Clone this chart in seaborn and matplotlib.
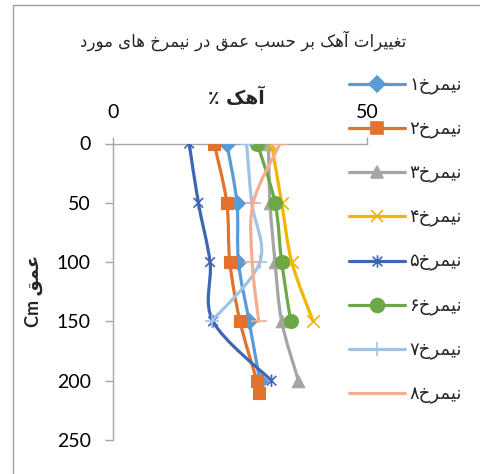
import numpy as np
import pandas as pd
import matplotlib
matplotlib.use("Agg")
import matplotlib.pyplot as plt
import seaborn as sns
from matplotlib.path import Path
from matplotlib.patches import PathPatch, Rectangle
from matplotlib.lines import Line2D

# ---- data: lime content (%) by depth (cm) for eight soil profiles ----
depth_1 = [0, 50, 100, 150, 200]
lime_1 = [22.4, 24.4, 24.7, 26.8, 28.9]
depth_2 = [0, 50, 100, 150, 200, 210]
lime_2 = [19.9, 22.4, 23.0, 25.0, 28.3, 28.8]
depth_3 = [0, 50, 100, 150, 200]
lime_3 = [30.6, 30.9, 31.9, 33.2, 36.5]
depth_4 = [0, 50, 100, 150]
lime_4 = [31.2, 33.2, 35.2, 39.4]
depth_5 = [0, 50, 100, 150, 200]
lime_5 = [15.0, 16.8, 19.1, 19.7, 31.2]
depth_6 = [0, 50, 100, 150]
lime_6 = [28.4, 31.9, 33.2, 35.0]
depth_7 = [0, 50, 100, 150]
lime_7 = [26.3, 27.3, 28.9, 19.4]
depth_8 = [0, 50, 100, 150]
lime_8 = [32.9, 27.6, 27.4, 28.7]

series_names = ["نیمرخ۱", "نیمرخ۲", "نیمرخ۳", "نیمرخ۴",
                "نیمرخ۵", "نیمرخ۶", "نیمرخ۷", "نیمرخ۸"]
x_ticks = [0, 50]
y_ticks = [0, 50, 100, 150, 200, 250]
title_text = "تغییرات آهک بر حسب عمق در نیمرخ های مورد"
x_label = "آهک ٪"
y_label = "عمق Cm"

depths = [depth_1, depth_2, depth_3, depth_4, depth_5, depth_6, depth_7, depth_8]
limes = [lime_1, lime_2, lime_3, lime_4, lime_5, lime_6, lime_7, lime_8]

colors = ["#5B9BD5", "#E2722C", "#A5A5A5", "#F2B600",
          "#3F66B5", "#6CA845", "#9DC3E6", "#F4AE8E"]

# six-armed star: an "x" crossed by a vertical stroke
asterisk = Path([(-1, -1), (1, 1), (-1, 1), (1, -1), (0, -1.3), (0, 1.3)],
                [Path.MOVETO, Path.LINETO] * 3)
markers = ["D", "s", "^", "x", asterisk, "o", "+", "_"]
marker_sizes = [8, 9, 9, 9, 9, 10, 10, 11]
filled = [True, True, True, False, False, True, False, False]


# ---- Arabic-script shaping (presentation forms) + right-to-left ordering ----
FORMS = {
    "ا": ("\uFE8D", "\uFE8E"), "آ": ("\uFE81", "\uFE82"),
    "د": ("\uFEA9", "\uFEAA"), "ر": ("\uFEAD", "\uFEAE"),
    "و": ("\uFEED", "\uFEEE"),
    "ب": ("\uFE8F", "\uFE90", "\uFE91", "\uFE92"),
    "ت": ("\uFE95", "\uFE96", "\uFE97", "\uFE98"),
    "ح": ("\uFEA1", "\uFEA2", "\uFEA3", "\uFEA4"),
    "خ": ("\uFEA5", "\uFEA6", "\uFEA7", "\uFEA8"),
    "س": ("\uFEB1", "\uFEB2", "\uFEB3", "\uFEB4"),
    "ع": ("\uFEC9", "\uFECA", "\uFECB", "\uFECC"),
    "غ": ("\uFECD", "\uFECE", "\uFECF", "\uFED0"),
    "ق": ("\uFED5", "\uFED6", "\uFED7", "\uFED8"),
    "م": ("\uFEE1", "\uFEE2", "\uFEE3", "\uFEE4"),
    "ن": ("\uFEE5", "\uFEE6", "\uFEE7", "\uFEE8"),
    "ه": ("\uFEE9", "\uFEEA", "\uFEEB", "\uFEEC"),
    "ی": ("\uFBFC", "\uFBFD", "\uFBFE", "\uFBFF"),
    "ک": ("\uFB8E", "\uFB8F", "\uFB90", "\uFB91"),
}


def rtl(text):
    shaped = []
    for i, ch in enumerate(text):
        f = FORMS.get(ch)
        if f is None:
            shaped.append(ch)
            continue
        prev = text[i - 1] if i > 0 else ""
        nxt = text[i + 1] if i + 1 < len(text) else ""
        join_prev = prev in FORMS and len(FORMS[prev]) == 4
        join_next = len(f) == 4 and nxt in FORMS
        if join_prev and join_next:
            shaped.append(f[3])
        elif join_prev:
            shaped.append(f[1])
        elif join_next:
            shaped.append(f[2])
        else:
            shaped.append(f[0])
    # group left-to-right runs (Latin letters / ASCII digits), reverse the rest
    tokens = []
    for ch in shaped:
        if ch.isascii() and ch.isalnum() and tokens and tokens[-1][0].isascii() and tokens[-1][0].isalnum():
            tokens[-1] += ch
        else:
            tokens.append(ch)
    return "".join(reversed(tokens))


def smooth_path(xs, ys):
    """Catmull-Rom style Bezier path through the points."""
    pts = np.column_stack([xs, ys]).astype(float)
    n = len(pts)
    verts = [pts[0]]
    codes = [Path.MOVETO]
    for i in range(n - 1):
        p0 = pts[i - 1] if i > 0 else pts[i]
        p1 = pts[i]
        p2 = pts[i + 1]
        p3 = pts[i + 2] if i + 2 < n else pts[i + 1]
        c1 = p1 + (p2 - p0) / 6.0
        c2 = p2 - (p3 - p1) / 6.0
        verts += [c1, c2, p2]
        codes += [Path.CURVE4] * 3
    return Path(verts, codes)


sns.set_theme(style="white")
plt.rcParams["font.family"] = ["Lato", "DejaVu Sans"]

W, H = 481, 474
fig = plt.figure(figsize=(W / 100, H / 100), dpi=100)
fig.patch.set_facecolor("white")

# outer chart frame
fig.patches.append(Rectangle((13 / W, -0.5), 2.0, 1.5 - 5 / H, transform=fig.transFigure,
                             fill=False, edgecolor="#A0A0A0", linewidth=1.0))

ax = fig.add_axes([113 / W, 1 - 440 / H, (367 - 113) / W, (440 - 143.5) / H])

for k in range(8):
    z = 3 + k * 0.1
    patch = PathPatch(smooth_path(limes[k], depths[k]), facecolor="none",
                      edgecolor=colors[k], linewidth=2.3, zorder=z,
                      capstyle="round", joinstyle="round")
    ax.add_patch(patch)
    df = pd.DataFrame({"lime": limes[k], "depth": depths[k]})
    kw = dict(marker=markers[k], s=marker_sizes[k] ** 2, zorder=z + 0.05, legend=False, ax=ax)
    if filled[k]:
        sns.scatterplot(data=df, x="lime", y="depth", color=colors[k],
                        edgecolor=colors[k], linewidth=0.8, **kw)
    elif isinstance(markers[k], Path):
        sns.scatterplot(data=df, x="lime", y="depth", color=colors[k],
                        edgecolor=colors[k], facecolor="none", linewidth=1.2, **kw)
    else:
        sns.scatterplot(data=df, x="lime", y="depth", color=colors[k],
                        linewidth=1.2, **kw)

ax.set_xlim(0, 50)
ax.set_ylim(250, 0)
ax.set_xticks(x_ticks)
ax.set_yticks(y_ticks)
ax.xaxis.tick_top()
ax.xaxis.set_label_position("top")
ax.set_xlabel("")
ax.set_ylabel("")
for s in ["right", "bottom"]:
    ax.spines[s].set_visible(False)
for s in ["left", "top"]:
    ax.spines[s].set_color("#A6A6A6")
    ax.spines[s].set_linewidth(1.0)
ax.tick_params(axis="x", which="major", top=True, bottom=False, direction="out",
               length=5, width=1.0, color="#A6A6A6", labelsize=14, pad=11, labelcolor="black")
ax.tick_params(axis="y", which="major", left=True, direction="out",
               length=6, width=1.0, color="#A6A6A6", labelsize=14, pad=10, labelcolor="black")
ax.set_facecolor("none")
ax.grid(False)

# titles
fig.text(243 / W, 1 - 41 / H, rtl(title_text), ha="center", va="center",
         fontsize=12, family=["DejaVu Sans"])
fig.text(236 / W, 1 - 98 / H, rtl(x_label), ha="center", va="center",
         fontsize=13.5, fontweight="bold", family=["DejaVu Sans"])
fig.text(34 / W, 1 - 291 / H, rtl(y_label), ha="center", va="center", rotation=90,
         fontsize=13, fontweight="bold", family=["Lato", "DejaVu Sans"])

# legend
handles = [Line2D([], [], color=colors[k], linewidth=2.3, marker=markers[k],
                  markersize=marker_sizes[k], markerfacecolor=colors[k] if filled[k] else "none",
                  markeredgecolor=colors[k], markeredgewidth=1.2)
           for k in range(8)]
fig.legend(handles, [rtl(n) for n in series_names], loc="upper left",
           bbox_to_anchor=(349 / W, 1 - 76 / H), frameon=False,
           prop={"family": ["DejaVu Sans"], "size": 13},
           handlelength=3.1, handletextpad=0.25, labelspacing=1.42,
           borderpad=0, borderaxespad=0)

fig.savefig("out.png", dpi=100)
